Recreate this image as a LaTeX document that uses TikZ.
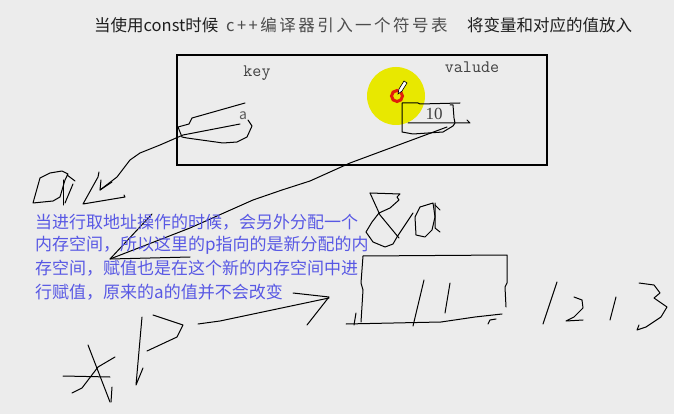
\documentclass[tikz,border=0pt]{standalone}
\usepackage{fontspec}
\newfontfamily\cjk{Noto Sans CJK SC}
\newfontfamily\serifnum{Liberation Serif}
\definecolor{bg}{RGB}{236,236,236}
\definecolor{txtblue}{RGB}{88,88,228}
\definecolor{hl}{RGB}{232,232,0}
\definecolor{ringred}{RGB}{225,30,10}
\definecolor{titlegray}{RGB}{30,30,30}
\begin{document}
\begin{tikzpicture}[x=1pt,y=-1pt,
  pen/.style={line width=1pt,line join=round,line cap=round,black},
  titletxt/.style={inner sep=0pt,text=titlegray,font=\cjk\fontsize{16.5}{19}\selectfont},
  bodytxt/.style={inner sep=0pt,anchor=west,text=txtblue,font=\cjk\fontsize{17}{20}\selectfont},
  monotxt/.style={inner sep=0pt,text=black!75,font=\ttfamily\fontsize{17.5}{20}\selectfont}]
\useasboundingbox (0,0) rectangle (674,414);
\fill[bg] (0,0) rectangle (674,414);

% title
\node[titletxt,anchor=west] (t1) at (94,25) {当使用const时候};
\node[titletxt,anchor=west,text=black!70] (t2) at (226,25) {\addfontfeature{LetterSpace=15}c++编译器引入一个符号表};
\node[titletxt,anchor=west] (t3) at (467,25) {将变量和对应的值放入};

% symbol table box
\draw[line width=1.2pt] (177,55) rectangle (547,165);
\node[monotxt] (key) at (257,73) {key};
\node[monotxt] (valude) at (472,67) {valude};

% highlight circle
\fill[hl] (396,96) circle (29);

% key entry "a"
\node[inner sep=0pt,text=black!65,font=\cjk\fontsize{14}{16}\selectfont] (akey) at (243,116) {a};
\draw[pen] (245,103)--(192,118)--(189,124)--(178,127)--(182,137)--(187,138)--(223,143)--(237,142)--(247,137)--(252,126)--(248,120);
\draw[pen] (240,124)--(183,135)--(160,145)--(140,153)--(130,160)--(117,177)--(100,190);
\draw[pen] (101,180)--(100,190)--(112,182);

% value entry "10"
\node[inner sep=0pt,text=black!75,font=\serifnum\fontsize{17}{19}\selectfont] (val) at (434,114) {10};
\draw[pen] (460,103)--(420,104)--(418,103)--(402,103)--(402,132)--(413,134)--(443,132)--(453,126)--(455,123)--(454,118)--(453,105)--(450,105);
\draw[pen] (408,123)--(470,123)--(467,120);
\draw[pen] (447,127)--(350,163)--(310,181)--(282,190)--(253,200)--(190,228)--(110,259);
\draw[pen] (152,214)--(110,259)--(190,257);

% red ring and pen cursor
\draw[ringred,line width=3pt] (397,96) circle (5.5);
\draw[black,fill=white,line width=0.6pt] (398,94)--(399,89)--(404,81)--(407,83)--(402,91)--cycle;

% "Da" scribble
\draw[pen] (33,203)--(40,178)--(50,173)--(62,171)--(68,174)--(65,180)--(60,197)--(53,201)--cycle;
\draw[pen] (63,180)--(63,205);
\draw[pen] (67,175)--(75,181);
\draw[pen] (73,184)--(65,203);
\draw[pen] (99,172)--(98,177)--(83,204)--(125,197)--(124,195);

% "&a" scribble
\draw[pen] (370,193)--(400,194)--(397,197)--(399,200)--(390,208)--(379,213)--(372,222)--(366,232)--(373,242)--(385,247)--(393,244)--(397,237)--(413,213);
\draw[pen] (370,193)--(380,215)--(399,238);
\draw[pen] (433,203)--(420,207)--(415,217)--(416,235)--(425,237)--(432,230)--(435,217)--(433,203);
\draw[pen] (435,203)--(435,228)--(440,232);
\draw[pen] (435,205)--(440,210);

% explanation text
\node[bodytxt] (l1) at (35,222) {当进行取地址操作的时候，会另外分配一个};
\node[bodytxt] (l2) at (35,245) {内存空间，所以这里的p指向的是新分配的内};
\node[bodytxt] (l3) at (35,268) {存空间，赋值也是在这个新的内存空间中进};
\node[bodytxt] (l4) at (35,292) {行赋值，原来的a的值并不会改变};

% arrows to the new memory box
\draw[pen] (293,293)--(329,297)--(307,325);
\draw[pen] (198,324)--(220,321)--(329,298);

% new memory box
\draw[pen] (363,256)--(507,255)--(507,283)--(505,287)--(506,307);
\draw[pen] (363,256)--(361,283)--(363,290)--(361,322);
\draw[pen] (346,324)--(441,322)--(475,317)--(502,314);
\draw[pen] (488,324)--(490,320)--(496,319);
\draw[pen] (356,313)--(354,325);
\draw[pen] (424,280)--(413,326);
\draw[pen] (450,283)--(445,313);

% 12 13
\draw[pen] (557,282)--(543,324);
\draw[pen] (574,297)--(582,300)--(583,308)--(574,317)--(566,321)--(583,320);
\draw[pen] (616,297)--(610,320);
\draw[pen] (639,283)--(654,285)--(660,293)--(654,298)--(667,307)--(661,317)--(646,327)--(637,330)--(639,325);

% *P
\draw[pen] (88,345)--(110,402);
\draw[pen] (63,376)--(110,377);
\draw[pen] (72,393)--(82,388)--(98,367)--(115,357);
\draw[pen] (112,387)--(111,402);
\draw[pen] (142,317)--(136,385)--(143,368);
\draw[pen] (153,315)--(183,325)--(177,337)--(147,351);
\end{tikzpicture}
\end{document}
